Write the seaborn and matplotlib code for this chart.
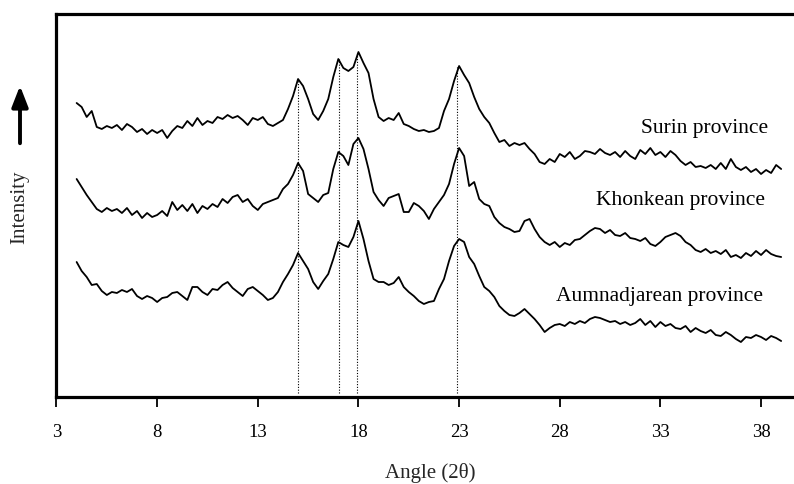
import numpy as np
import pandas as pd
import matplotlib
matplotlib.use("Agg")
import matplotlib.pyplot as plt
import seaborn as sns

# ---------------- data ----------------
scan_start = 4.0
scan_step = 0.25

surin = [296, 292, 282, 288, 272, 270, 273, 271, 274, 269, 275, 272, 267, 270, 265, 269,
         266, 269, 261, 268, 273, 271, 278, 273, 281, 274, 278, 276, 282, 280, 284, 281,
         283, 279, 274, 281, 279, 282, 275, 273, 276, 279, 290, 303, 320, 313, 300, 285,
         279, 288, 300, 322, 340, 331, 328, 332, 347, 336, 326, 300, 282, 278, 281, 279,
         286, 275, 273, 270, 268, 269, 267, 268, 271, 288, 300, 318, 333, 324, 316, 302,
         290, 282, 276, 266, 257, 259, 253, 256, 254, 256, 250, 245, 237, 235, 240, 237,
         245, 242, 247, 240, 243, 248, 247, 245, 250, 246, 244, 247, 242, 248, 243, 240,
         249, 245, 251, 244, 247, 242, 248, 244, 238, 234, 237, 232, 233, 231, 234, 230,
         236, 230, 240, 232, 229, 232, 227, 230, 225, 229, 226, 234, 230]

khonkean = [220, 212, 204, 197, 190, 187, 191, 188, 190, 186, 191, 184, 188, 181, 186, 182,
            184, 188, 183, 197, 189, 194, 188, 195, 186, 193, 190, 195, 192, 200, 196, 202,
            204, 197, 200, 193, 189, 195, 197, 199, 201, 210, 215, 224, 236, 228, 205, 201,
            197, 204, 206, 230, 247, 243, 234, 255, 261, 250, 230, 207, 199, 193, 201, 203,
            205, 187, 187, 196, 193, 188, 180, 190, 197, 204, 215, 235, 251, 243, 213, 217,
            200, 195, 193, 182, 176, 172, 170, 167, 168, 178, 180, 170, 162, 157, 154, 157,
            152, 156, 154, 159, 160, 164, 168, 171, 170, 166, 169, 164, 163, 166, 161, 160,
            158, 161, 155, 153, 157, 162, 164, 166, 163, 157, 154, 149, 147, 150, 146, 148,
            145, 149, 142, 144, 141, 146, 143, 148, 144, 149, 145, 143, 142]

aumnadjarean = [137, 128, 122, 114, 115, 108, 104, 107, 106, 109, 107, 110, 103, 100, 103, 101,
                97, 101, 102, 106, 107, 103, 99, 112, 112, 107, 104, 110, 109, 114, 117, 111,
                107, 103, 110, 112, 108, 104, 99, 101, 107, 117, 125, 134, 146, 138, 130, 117,
                110, 118, 125, 140, 157, 154, 152, 162, 178, 160, 138, 120, 117, 117, 114, 116,
                122, 112, 107, 103, 98, 95, 97, 98, 110, 120, 138, 153, 160, 157, 142, 135,
                123, 112, 108, 102, 93, 88, 84, 83, 86, 90, 85, 80, 74, 67, 71, 74,
                75, 73, 77, 75, 78, 76, 80, 82, 81, 79, 77, 78, 75, 77, 74, 76,
                80, 74, 78, 72, 77, 73, 75, 71, 70, 73, 67, 71, 68, 66, 69, 64,
                63, 67, 64, 60, 57, 62, 61, 64, 62, 59, 63, 61, 58]

provinces = ["Surin province", "Khonkean province", "Aumnadjarean province"]
series = [surin, khonkean, aumnadjarean]

# reference peak positions (dotted lines) and their tops
peak_angles = [15.0, 17.05, 17.95, 22.9]
peak_tops = [320, 340, 347, 333]
peak_bottom = 6

# label anchors (right edge angle, intensity)
label_x = [38.35, 38.2, 38.1]
label_y = [272, 200, 103]

x_ticks = [3, 8, 13, 18, 23, 28, 33, 38]

# ---------------- build long-form table ----------------
rows = []
for name, vals in zip(provinces, series):
    ang = scan_start + scan_step * np.arange(len(vals))
    rows.append(pd.DataFrame({"angle": ang, "intensity": vals, "province": name}))
df = pd.concat(rows, ignore_index=True)

# ---------------- figure ----------------
sns.set_style("white")
plt.rcParams["font.family"] = ["Liberation Serif", "DejaVu Serif"]

W, H = 794, 485
fig = plt.figure(figsize=(W / 100, H / 100), dpi=100)
left_px, right_px, top_px, bottom_px = 56.5, 801.3, 15, 398
ax = fig.add_axes([left_px / W, (H - bottom_px) / H,
                   (right_px - left_px) / W, (bottom_px - top_px) / H])

sns.lineplot(data=df, x="angle", y="intensity", hue="province",
             palette=["black"] * 3, estimator=None, sort=False,
             legend=False, linewidth=1.3, ax=ax)

for a, t in zip(peak_angles, peak_tops):
    ax.plot([a, a], [peak_bottom, t], color="black", linestyle=(0, (1, 1.5)),
            linewidth=0.8, zorder=1)

for name, lx, ly in zip(provinces, label_x, label_y):
    ax.text(lx, ly, name, ha="right", va="center", fontsize=15.5, color="black")

ax.set_xlim(3, 40)
ax.set_ylim(2, 385)
ax.set_xticks(x_ticks)
ax.set_xticklabels([str(t) for t in x_ticks], fontsize=13.5)
ax.set_yticks([])
ax.set_xlabel("")
ax.set_ylabel("")
ax.tick_params(axis="x", direction="out", length=7, width=1.3, pad=12,
               colors="black", bottom=True)
for s in ["left", "bottom", "top"]:
    ax.spines[s].set_visible(True)
    ax.spines[s].set_linewidth(2.3)
    ax.spines[s].set_color("black")
ax.spines["right"].set_visible(False)

fig.text(430 / W, (H - 473) / H, "Angle (2θ)", ha="center", va="center", fontsize=15)
fig.text(20 / W, (H - 207) / H, "Intensity", ha="center", va="center",
         rotation=90, fontsize=15)
fig.patches.append(matplotlib.patches.FancyArrowPatch(
    (20 / W, (H - 147) / H), (20 / W, (H - 84) / H), transform=fig.transFigure,
    arrowstyle="-|>,head_width=0.35,head_length=0.9", mutation_scale=14,
    linewidth=2.8, color="black"))

fig.savefig("out.png", dpi=100)
